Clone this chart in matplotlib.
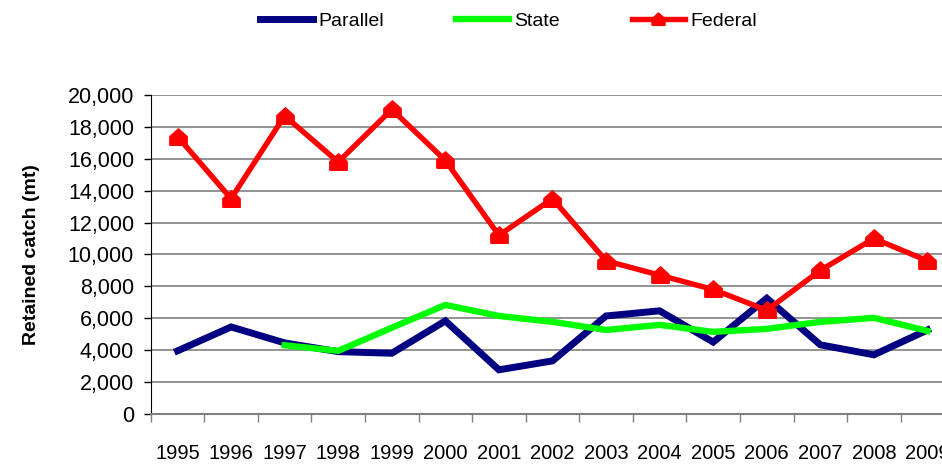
import matplotlib
matplotlib.use("Agg")
import matplotlib.pyplot as plt
from matplotlib.ticker import FuncFormatter, FixedLocator

plt.rcParams["font.family"] = ["Liberation Sans", "DejaVu Sans"]

years = [str(y) for y in range(1995, 2010)]

# retained catch (mt) per year
parallel = [3950, 5450, 4450, 3900, 3800, 5830, 2760, 3320, 6140, 6460, 4500, 7250, 4330, 3700, 5260]
state_years = years[2:]
state = [4300, 3950, 5400, 6830, 6140, 5770, 5260, 5580, 5140, 5330, 5770, 6020, 5200]
federal = [17400, 13500, 18700, 15800, 19100, 15900, 11200, 13500, 9600, 8700, 7800, 6500, 9000, 11000, 9600]

# house-shaped marker like the old Excel one
house = [(-1, -0.9), (1, -0.9), (1, 0.1), (0, 1), (-1, 0.1), (-1, -0.9)]

fig = plt.figure(figsize=(9.42, 4.66), dpi=100)
ax = fig.add_axes([0.160, 0.112, 0.853, 0.684])

x = list(range(len(years)))
xs = [years.index(y) for y in state_years]

ax.plot(x, parallel, color="#000080", lw=5.0, label="Parallel", solid_joinstyle="miter")
ax.plot(xs, state, color="#00ff00", lw=4.6, label="State", solid_joinstyle="miter")
ax.plot(x, federal, color="#ff0000", lw=3.9, marker=house, ms=12.5,
        mec="#ff0000", mfc="#ff0000", label="Federal")

ax.set_xlim(-0.5, len(years) - 0.5)
ax.set_ylim(0, 20000)
ax.set_yticks(range(0, 20001, 2000))
ax.yaxis.set_major_formatter(FuncFormatter(lambda v, p: f"{int(v):,}"))
ax.yaxis.grid(True, color="#808080", lw=1.2)
ax.set_axisbelow(True)

ax.set_xticks(x)
ax.set_xticklabels(years, fontsize=14.5)
ax.xaxis.set_minor_locator(FixedLocator([i - 0.5 for i in range(len(years) + 1)]))
ax.tick_params(axis="x", which="major", length=0, pad=22)
ax.tick_params(axis="x", which="minor", length=6, width=1, color="#808080")
ax.tick_params(axis="y", length=5, width=1, labelsize=15.5, pad=7)

for s in ["top", "right"]:
    ax.spines[s].set_visible(False)
ax.spines["left"].set_color("black")
ax.spines["bottom"].set_color("#808080")
ax.spines["bottom"].set_linewidth(1.5)

ax.set_ylabel("Retained catch (mt)", fontsize=14, fontweight="bold", labelpad=20)

fig.legend(loc="upper left", bbox_to_anchor=(0.266, 0.995), ncol=3, frameon=False,
           fontsize=14, columnspacing=3.7, handlelength=2.7, handletextpad=0.3,
           borderpad=0, markerscale=0.75)

fig.savefig("out.png", dpi=100)
